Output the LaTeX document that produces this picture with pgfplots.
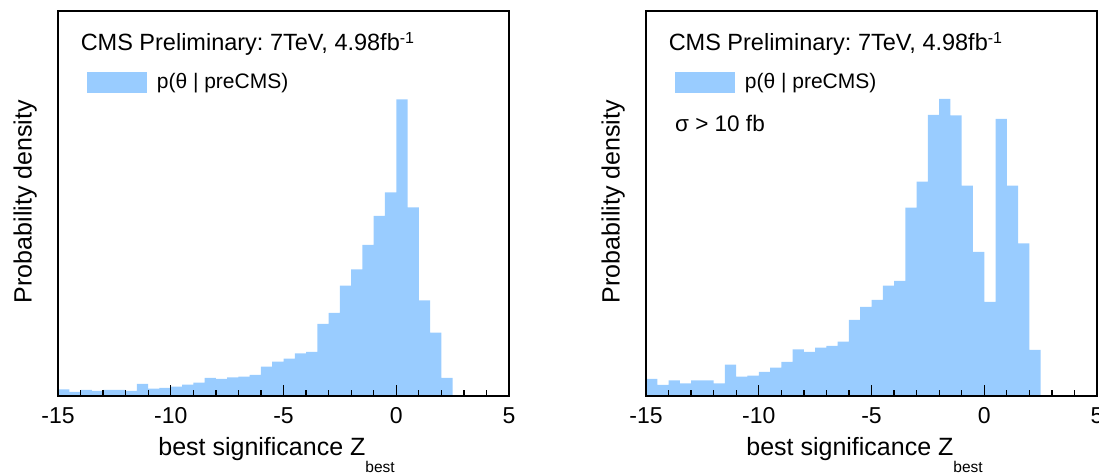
\documentclass[border=0pt]{standalone}
\usepackage{fontspec}
\setmainfont{Liberation Sans}
\usepackage{pgfplots}
\usepackage{pgfplotstable}
\pgfplotsset{compat=1.18}
\definecolor{histblue}{RGB}{153,204,255}
\frenchspacing

\pgfplotstableread{
x y
-15 20
-14.5 12
-14 18
-13.5 15
-13 18
-12.5 18
-12 15
-11.5 36
-11 22
-10.5 24
-10 28
-9.5 34
-9 40
-8.5 54
-8 51
-7.5 56
-7 58
-6.5 63
-6 88
-5.5 103
-5 112
-4.5 128
-4 132
-3.5 216
-3 249
-2.5 331
-2 380
-1.5 453
-1 540
-0.5 611
0 890
0.5 566
1 287
1.5 190
2 54
2.5 0
}\leftdata

\pgfplotstableread{
x y
-15 51
-14.5 33
-14 47
-13.5 38
-13 47
-12.5 47
-12 38
-11.5 94
-11 58
-10.5 61
-10 72
-9.5 85
-9 102
-8.5 140
-8 132
-7.5 145
-7 150
-6.5 163
-6 228
-5.5 267
-5 288
-4.5 331
-4 345
-3.5 565
-3 643
-2.5 843
-2 891
-1.5 842
-1 631
-0.5 432
0 282
0.5 831
1 631
1.5 458
2 138
2.5 0
}\rightdata

\pgfplotsset{
  histax/.style={
    width=451pt, height=385pt, scale only axis,
    xmin=-15, xmax=5, ymin=0, ymax=1155,
    axis on top,
    axis line style={line width=1.6pt, black},
    xtick={-15,-10,-5,0,5},
    xticklabels={-15,-10,-5,0,5},
    minor x tick num=4,
    ytick=\empty,
    tick pos=left,
    xtick align=inside,
    major tick length=11pt, minor tick length=5.5pt,
    every tick/.style={line width=1.3pt, black},
    xticklabel style={font=\fontsize{23}{23}\selectfont, inner sep=0pt, yshift=-11.5pt},
    xlabel={best significance Z\raisebox{-16.3pt}{\fontsize{15.5}{15.5}\selectfont best}},
    xlabel style={at={(axis description cs:0.2222,-0.1551)}, anchor=base west, inner sep=0pt, font=\fontsize{25}{25}\selectfont},
    ylabel={Probability density},
    ylabel style={at={(axis description cs:-0.0583,0.505)}, anchor=base, inner sep=0pt, font=\fontsize{25}{25}\selectfont},
    legend style={at={(axis description cs:0.064,0.8423)}, anchor=north west, draw=none, fill=none,
      inner sep=0pt, outer sep=0pt, column sep=10pt, cells={anchor=base west},
      nodes={inner sep=0pt, text depth=0pt}, font=\fontsize{21}{21}\selectfont},
    legend image code/.code={\fill[histblue] (0pt,-5pt) rectangle (60pt,16.6pt);},
  }
}

\begin{document}
\begin{tikzpicture}
\path[use as bounding box] (0,0) rectangle (1099pt,473pt);

\begin{axis}[histax, at={(58pt,77pt)}, anchor=south west]
\addplot[ybar interval, fill=histblue, draw=none] table[x=x,y=y] {\leftdata};
\addlegendentry{p(θ | preCMS)}
\node[anchor=base west, inner sep=0pt, font=\fontsize{23.5}{23.5}\selectfont] at (axis description cs:0.05,0.897)
  {CMS Preliminary: 7TeV, 4.98fb\raisebox{7.5pt}{\fontsize{16}{16}\selectfont -1}};
\end{axis}

\begin{axis}[histax, at={(646pt,77pt)}, anchor=south west]
\addplot[ybar interval, fill=histblue, draw=none] table[x=x,y=y] {\rightdata};
\addlegendentry{p(θ | preCMS)}
\node[anchor=base west, inner sep=0pt, font=\fontsize{23.5}{23.5}\selectfont] at (axis description cs:0.05,0.897)
  {CMS Preliminary: 7TeV, 4.98fb\raisebox{7.5pt}{\fontsize{16}{16}\selectfont -1}};
\node[anchor=base west, inner sep=0pt, font=\fontsize{22.5}{22.5}\selectfont] at (axis description cs:0.0643,0.6865)
  {σ > 10 fb};
\end{axis}
\end{tikzpicture}
\end{document}
